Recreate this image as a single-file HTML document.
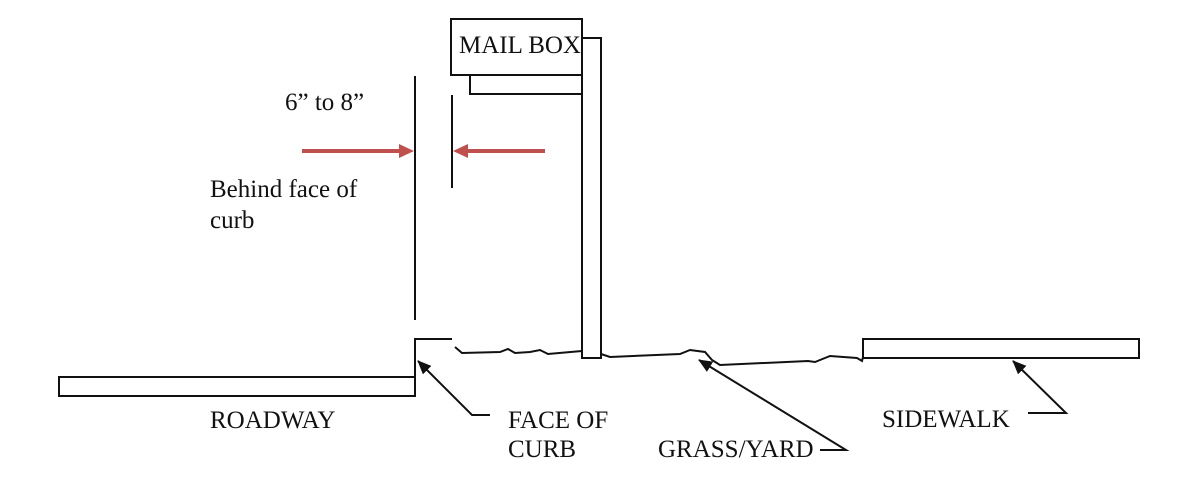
<!DOCTYPE html>
<html><head><meta charset="utf-8"><style>
html,body{margin:0;padding:0;background:#fff;}
svg{display:block}
text{font-family:"Liberation Serif",serif;font-size:25px;fill:#111}
</style></head><body>
<svg width="1191" height="483" viewBox="0 0 1191 483" xmlns="http://www.w3.org/2000/svg">
<defs>
<marker id="ab" markerWidth="14" markerHeight="12" refX="13" refY="6" orient="auto" markerUnits="userSpaceOnUse"><path d="M0,0 L14,6 L0,12 z" fill="#111"/></marker>
</defs>
<g fill="none" stroke="#111" stroke-width="2">
<rect x="451" y="19" width="131" height="56"/>
<polyline points="470,75 470,94 582,94"/>
<rect x="582" y="38" width="19" height="320"/>
<line x1="415" y1="76" x2="415" y2="320"/>
<line x1="452" y1="95" x2="452" y2="188"/>
<rect x="59" y="377" width="356" height="19"/>
<polyline points="415,377 415,339 452,339"/>
<polyline points="455,347 462,353 500,352 508,349 515,353 530,352 540,350 548,354 582,351"/>
<polyline points="601,354 610,357 680,354 690,350 705,352 712,360 720,365 808,361 815,362 830,356 857,358 862,361 863,357"/>
<rect x="863" y="339" width="276" height="19"/>
<polyline points="490,415 472,415 418,361" marker-end="url(#ab)"/>
<polyline points="820,450 846,450 699,360" marker-end="url(#ab)"/>
<polyline points="1028,413 1066,413 1013,361" marker-end="url(#ab)"/>
</g>
<g stroke="#c0504d" stroke-width="4" fill="#c0504d">
<line x1="302" y1="151" x2="400" y2="151"/>
<path d="M399,144 L414,151 L399,158 z" stroke="none"/>
<line x1="545" y1="151" x2="467" y2="151"/>
<path d="M468,144 L453,151 L468,158 z" stroke="none"/>
</g>
<text x="459" y="53">MAIL BOX</text>
<text x="285" y="110">6” to 8”</text>
<text x="210" y="197">Behind face of</text>
<text x="210" y="228">curb</text>
<text x="210" y="428">ROADWAY</text>
<text x="508" y="428">FACE OF</text>
<text x="508" y="457">CURB</text>
<text x="658" y="457">GRASS/YARD</text>
<text x="882" y="427">SIDEWALK</text>
</svg>
</body></html>
